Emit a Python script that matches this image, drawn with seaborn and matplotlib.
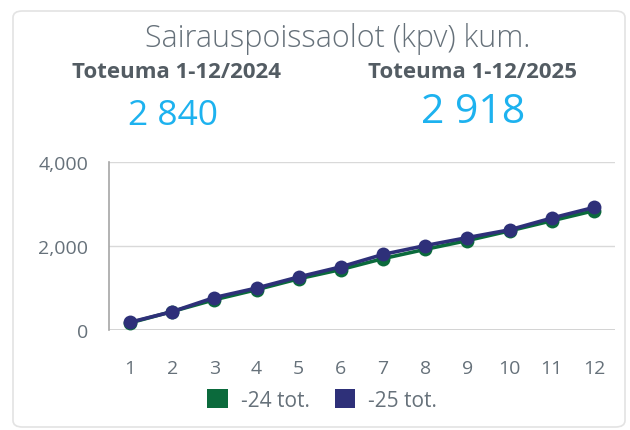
"""Sairauspoissaolot (kpv) kumulatiivisesti, 2024 vs 2025."""

import numpy as np
import pandas as pd
import matplotlib
matplotlib.use("Agg")
import matplotlib.pyplot as plt
from matplotlib.patches import FancyBboxPatch, Patch
import seaborn as sns

# data
months = list(range(1, 13))
kpv_2024 = [170, 440, 720, 960, 1220, 1440, 1700, 1920, 2130, 2360, 2600, 2840]
kpv_2025 = [185, 437, 773, 999, 1264, 1504, 1800, 2010, 2200, 2385, 2665, 2918]
series_names = ["-24 tot.", "-25 tot."]
series_colors = ["#0b6a3c", "#2e3079"]
y_ticks = [0, 2000, 4000]
title = "Sairauspoissaolot (kpv) kum."
kpi_labels = ["Toteuma 1-12/2024", "Toteuma 1-12/2025"]
kpi_values = ["2 840", "2 918"]

df = pd.DataFrame({
    "kk": months * 2,
    "kpv": kpv_2024 + kpv_2025,
    "sarja": [series_names[0]] * 12 + [series_names[1]] * 12,
})

sns.set_style("white")
plt.rcParams["font.family"] = ["Open Sans", "DejaVu Sans"]

text_gray = "#66717a"
kpi_blue = "#1db2ef"

fig = plt.figure(figsize=(6.3, 4.31), dpi=100)

# card background (behind the axes)
card = FancyBboxPatch((13 / 630, 1 - 428 / 431), 612 / 630, 416 / 431,
                      boxstyle="round,pad=0,rounding_size=0.015",
                      transform=fig.transFigure, facecolor="white",
                      edgecolor="#e3e3e3", linewidth=1.2, zorder=-10)
fig.patches.append(card)

ax = fig.add_axes([109 / 630, 1 - 331 / 431, 506 / 630, 168 / 431])
ax.patch.set_alpha(0)
sns.lineplot(data=df, x="kk", y="kpv", hue="sarja", hue_order=series_names,
             palette=series_colors, marker="o", markersize=10,
             markeredgewidth=0, linewidth=2.6, legend=False, ax=ax)

ax.set_xlim(0.5, 12.5)
ax.set_ylim(0, 4000)
ax.set_xticks(months)
ax.set_yticks(y_ticks)
ax.set_yticklabels([f"{v:,}" for v in y_ticks])
ax.set_xlabel("")
ax.set_ylabel("")
ax.tick_params(axis="both", length=0, labelsize=14, labelcolor=text_gray)
ax.tick_params(axis="y", pad=15)
ax.tick_params(axis="x", pad=21)
ax.grid(axis="y", color="#d9d9d9", linewidth=1)
ax.set_axisbelow(True)
for side in ["top", "right", "bottom"]:
    ax.spines[side].set_visible(False)
ax.spines["left"].set_color("#a6a6a6")
ax.spines["left"].set_linewidth(1.2)
ax.axhline(0, color="#cfcfcf", linewidth=2, zorder=0)

# header texts
fig.text(338 / 630, 1 - 39 / 431, title, ha="center", va="center",
         fontsize=22, color=text_gray, fontweight="light")
fig.text(176 / 630, 1 - 72 / 431, kpi_labels[0], ha="center", va="center",
         fontsize=16, color="#535c63", fontweight="bold")
fig.text(472 / 630, 1 - 72 / 431, kpi_labels[1], ha="center", va="center",
         fontsize=16, color="#535c63", fontweight="bold")
fig.text(173 / 630, 1 - 116 / 431, kpi_values[0], ha="center", va="center",
         fontsize=25.5, color=kpi_blue)
fig.text(473 / 630, 1 - 113 / 431, kpi_values[1], ha="center", va="center",
         fontsize=29.5, color=kpi_blue)

handles = [Patch(facecolor=c, edgecolor="none") for c in series_colors]
fig.legend(handles, series_names, loc="center", bbox_to_anchor=(322 / 630, 1 - 401 / 431),
           ncol=2, frameon=False, fontsize=15, labelcolor=text_gray,
           handlelength=1.0, handleheight=1.0, handletextpad=0.6, columnspacing=1.2)

fig.savefig("out.png", dpi=100)
